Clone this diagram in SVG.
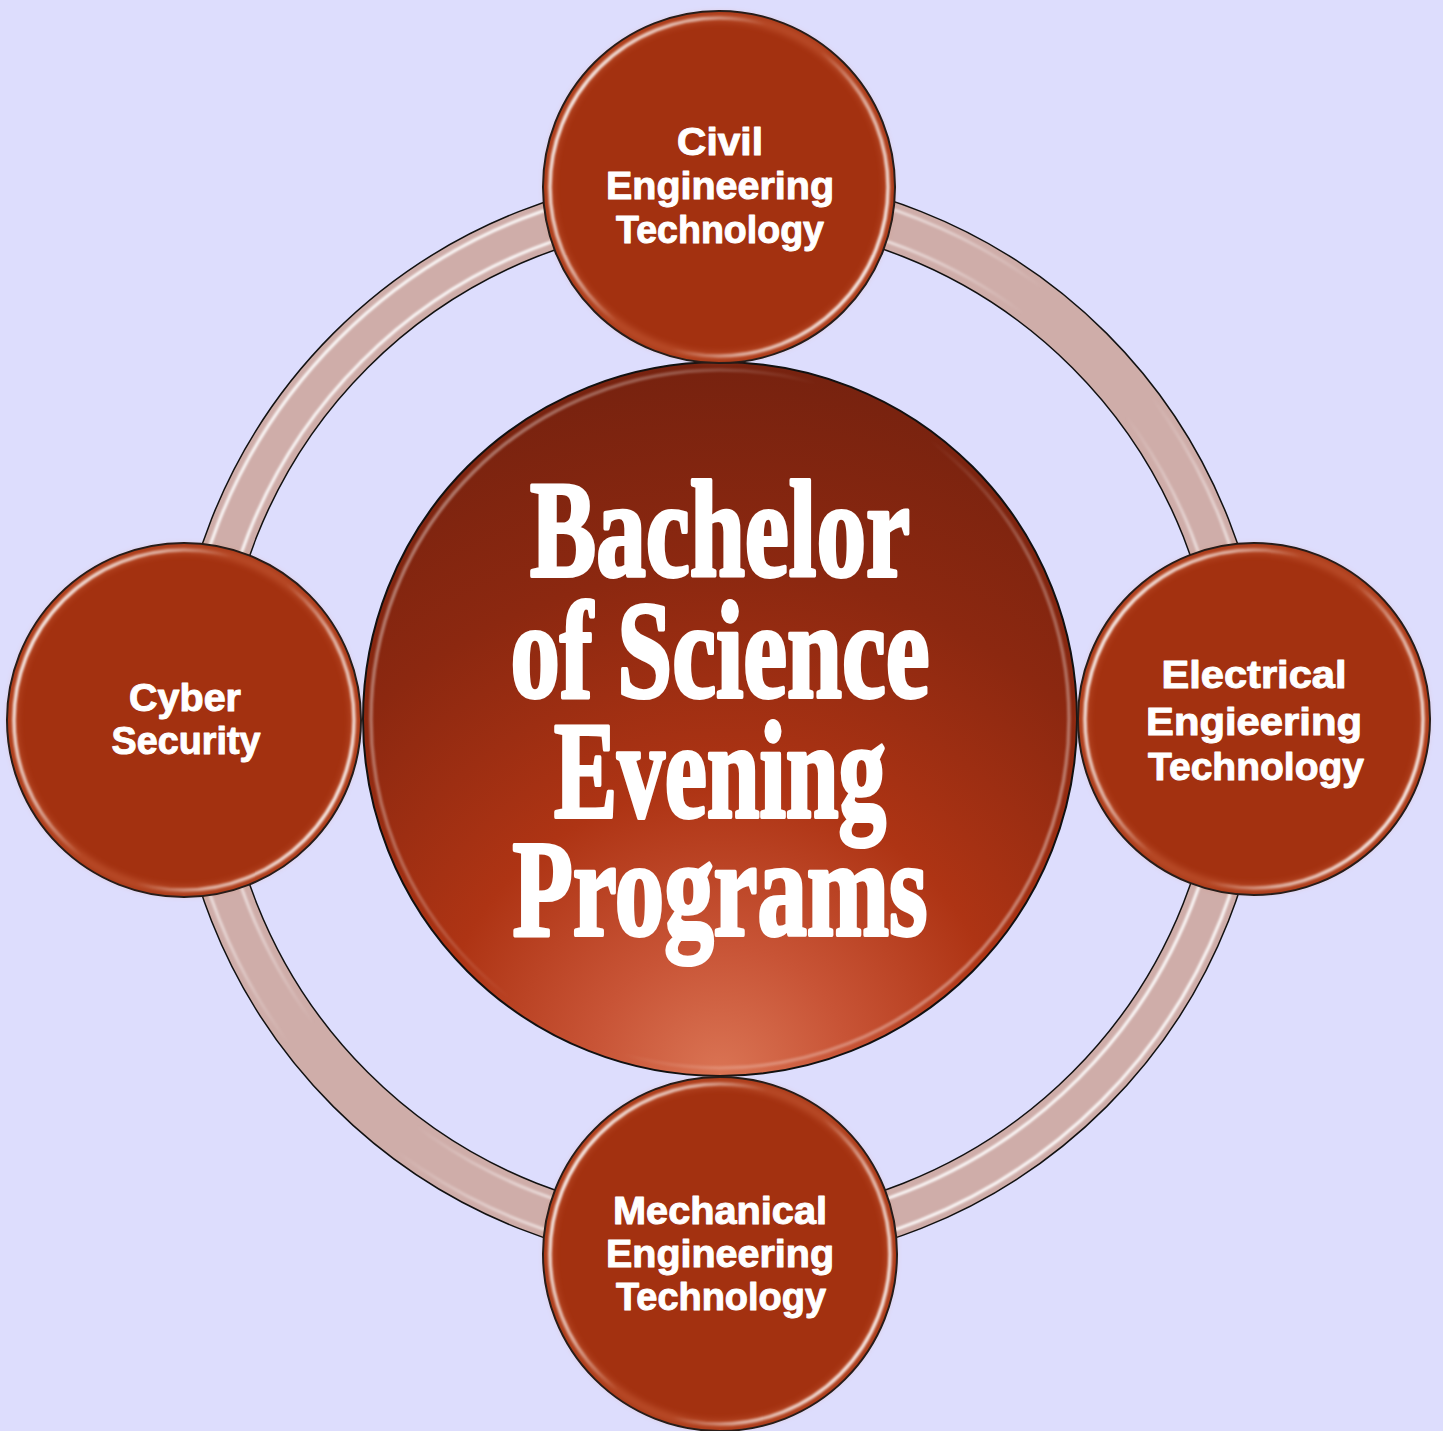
<svg xmlns="http://www.w3.org/2000/svg" width="1443" height="1431" viewBox="0 0 1443 1431">
<style>
.node{fill:#A33110;stroke:#111;stroke-width:2}
.soft{fill:none;stroke:#E07A55;stroke-width:9;opacity:0.35;filter:url(#blur3)}
.rim{fill:none;stroke:url(#rimGrad);stroke-width:3.5;filter:url(#blur1)}
.lbl{font-family:"Liberation Sans",Arial,sans-serif;font-weight:700;font-size:38px;fill:#fff;stroke:#fff;stroke-width:1;stroke-linejoin:round;text-anchor:middle}
.big{font-family:"Liberation Serif","Times New Roman",serif;font-weight:700;font-size:138px;fill:#fff;stroke:#fff;stroke-width:4;stroke-linejoin:round;text-anchor:middle}
</style>
<defs>
<filter id="blur1" x="-10%" y="-10%" width="120%" height="120%"><feGaussianBlur stdDeviation="1.3"/></filter>
<filter id="blur3" x="-10%" y="-10%" width="120%" height="120%"><feGaussianBlur stdDeviation="3"/></filter>
<linearGradient id="rimGrad" x1="0" y1="0.25" x2="1" y2="0.75">
<stop offset="0" stop-color="#fff" stop-opacity="0.95"/>
<stop offset="0.25" stop-color="#fff" stop-opacity="0.55"/>
<stop offset="0.42" stop-color="#fff" stop-opacity="0"/>
<stop offset="0.58" stop-color="#fff" stop-opacity="0"/>
<stop offset="0.75" stop-color="#fff" stop-opacity="0.55"/>
<stop offset="1" stop-color="#fff" stop-opacity="0.95"/>
</linearGradient>
<linearGradient id="ringHi" x1="0" y1="0" x2="1" y2="1">
<stop offset="0" stop-color="#fff" stop-opacity="1"/>
<stop offset="0.3" stop-color="#fff" stop-opacity="0.85"/>
<stop offset="0.45" stop-color="#fff" stop-opacity="0"/>
<stop offset="0.55" stop-color="#fff" stop-opacity="0"/>
<stop offset="0.7" stop-color="#fff" stop-opacity="0.85"/>
<stop offset="1" stop-color="#fff" stop-opacity="1"/>
</linearGradient>
<radialGradient id="centerGrad" gradientUnits="userSpaceOnUse" cx="720" cy="1075" r="720" fx="720" fy="1075">
<stop offset="0" stop-color="#DA7454"/>
<stop offset="0.18" stop-color="#C85436"/>
<stop offset="0.4" stop-color="#AE3414"/>
<stop offset="0.7" stop-color="#8C2810"/>
<stop offset="1" stop-color="#76220F"/>
</radialGradient>
</defs>
<rect x="0" y="0" width="1443" height="1431" fill="#DDDDFD"/>
<g id="connectors">
<circle cx="720" cy="720" r="522.5" fill="none" stroke="#111" stroke-width="50"/>
<circle cx="720" cy="720" r="522.5" fill="none" stroke="#CFADA9" stroke-width="47"/>
<circle cx="720" cy="720" r="539" fill="none" stroke="url(#ringHi)" stroke-width="3" filter="url(#blur1)"/>
<circle cx="720" cy="720" r="507" fill="none" stroke="url(#ringHi)" stroke-width="3" filter="url(#blur1)"/>
</g>
<g id="center">
<circle cx="720" cy="719" r="357" fill="url(#centerGrad)" stroke="#111" stroke-width="2"/>
<circle cx="720" cy="719" r="349" class="rim" opacity="0.45"/>
<text class="big" x="720" y="576" textLength="380" lengthAdjust="spacingAndGlyphs">Bachelor</text>
<text class="big" x="720" y="697" textLength="419" lengthAdjust="spacingAndGlyphs">of Science</text>
<text class="big" x="720" y="817" textLength="332" lengthAdjust="spacingAndGlyphs">Evening</text>
<text class="big" x="720" y="935" textLength="415" lengthAdjust="spacingAndGlyphs">Programs</text>
</g>
<g id="civil">
<circle class="node" cx="719" cy="187" r="176"/>
<circle class="soft" cx="719" cy="187" r="170"/>
<circle class="rim" cx="719" cy="187" r="169"/>
<text class="lbl" x="720" y="155" textLength="86" lengthAdjust="spacingAndGlyphs">Civil</text>
<text class="lbl" x="720" y="199" textLength="228" lengthAdjust="spacingAndGlyphs">Engineering</text>
<text class="lbl" x="720" y="243" textLength="208" lengthAdjust="spacingAndGlyphs">Technology</text>
</g>
<g id="cyber">
<circle class="node" cx="184" cy="720" r="177"/>
<circle class="soft" cx="184" cy="720" r="171"/>
<circle class="rim" cx="184" cy="720" r="170"/>
<text class="lbl" x="185" y="711" textLength="112" lengthAdjust="spacingAndGlyphs">Cyber</text>
<text class="lbl" x="186" y="754" textLength="149" lengthAdjust="spacingAndGlyphs">Security</text>
</g>
<g id="electrical">
<circle class="node" cx="1254" cy="719" r="176"/>
<circle class="soft" cx="1254" cy="719" r="170"/>
<circle class="rim" cx="1254" cy="719" r="169"/>
<text class="lbl" x="1254" y="688" textLength="185" lengthAdjust="spacingAndGlyphs">Electrical</text>
<text class="lbl" x="1254" y="735" textLength="216" lengthAdjust="spacingAndGlyphs">Engieering</text>
<text class="lbl" x="1256" y="780" textLength="216" lengthAdjust="spacingAndGlyphs">Technology</text>
</g>
<g id="mechanical">
<circle class="node" cx="720" cy="1254" r="177"/>
<circle class="soft" cx="720" cy="1254" r="171"/>
<circle class="rim" cx="720" cy="1254" r="170"/>
<text class="lbl" x="720" y="1224" textLength="214" lengthAdjust="spacingAndGlyphs">Mechanical</text>
<text class="lbl" x="720" y="1267" textLength="228" lengthAdjust="spacingAndGlyphs">Engineering</text>
<text class="lbl" x="721" y="1310" textLength="210" lengthAdjust="spacingAndGlyphs">Technology</text>
</g>
</svg>
